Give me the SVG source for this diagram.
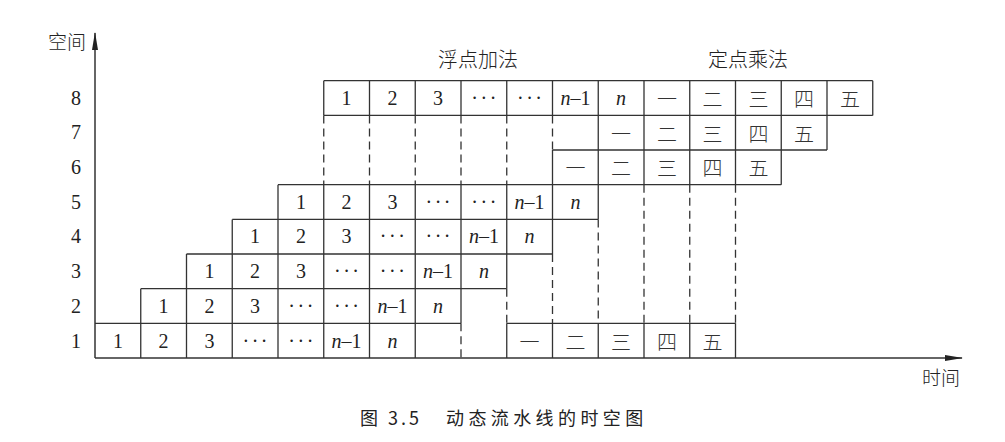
<svg xmlns="http://www.w3.org/2000/svg" width="1005" height="442" viewBox="0 0 1005 442">
<style>
.s{stroke:#333;stroke-width:1.3;fill:none}
.d{stroke:#333;stroke-width:1.3;fill:none;stroke-dasharray:8 5}
.ax{stroke:#333;stroke-width:1.5;fill:none}
.n{font-family:"Liberation Serif",serif;font-size:20px;fill:#222;text-anchor:middle}
.i{font-style:italic}
.dots{font-family:"Liberation Serif",serif;font-size:20px;fill:#222;text-anchor:middle;letter-spacing:2.5px}
.c{font-family:"Noto Sans CJK SC",sans-serif;font-weight:300;font-size:20px;fill:#333;text-anchor:middle}
.t{font-family:"Noto Sans CJK SC",sans-serif;font-weight:300;font-size:20px;fill:#222;text-anchor:middle}
.lab{font-family:"Noto Sans CJK SC",sans-serif;font-weight:300;font-size:19px;fill:#222}
.cap{font-family:"Noto Sans CJK SC",sans-serif;font-size:18px;fill:#222}
</style>
<defs>
<marker id="ah" markerUnits="userSpaceOnUse" markerWidth="18" markerHeight="8" refX="17" refY="3" orient="auto">
<path d="M0,0 L18,3 L0,6 Z" fill="#222"/>
</marker>
</defs>

<g id="connectors">
<path class="ax" d="M95,358 V33" marker-end="url(#ah)"/>
<path class="ax" d="M95,358 H962" marker-end="url(#ah)"/>
</g>

<g id="grid-solid">
<path class="s" d="M323.75,80.7H872.75 M323.75,115.4H872.75 M552.5,150H827 M278,184.7H781.25 M232.25,219.4H598.25 M186.5,254H552.5 M140.75,288.7H506.75 M95,323.3H461 M506.75,323.3H735.5"/>
<path class="s" d="M140.75,288.7V358 M186.5,254V358 M232.25,219.4V358 M278,184.7V358
M323.75,184.7V358 M323.75,80.7V115.4
M369.5,184.7V358 M369.5,80.7V115.4
M415.25,184.7V358 M415.25,80.7V115.4
M461,184.7V323.3 M461,80.7V115.4
M506.75,323.3V358 M506.75,184.7V288.7 M506.75,80.7V115.4
M552.5,323.3V358 M552.5,150V254 M552.5,80.7V115.4
M598.25,323.3V358 M598.25,80.7V219.4
M644,323.3V358 M644,80.7V184.7
M689.75,323.3V358 M689.75,80.7V184.7
M735.5,323.3V358 M735.5,80.7V184.7
M781.25,80.7V184.7 M827,80.7V150 M872.75,80.7V115.4"/>
</g>
<g id="grid-dashed">
<path class="d" d="M323.75,115.4V184.7 M369.5,115.4V184.7 M415.25,115.4V184.7 M461,115.4V184.7 M506.75,115.4V184.7 M552.5,115.4V150
M461,323.3V358 M506.75,288.7V323.3 M552.5,254V323.3 M598.25,219.4V323.3 M644,184.7V323.3 M689.75,184.7V323.3 M735.5,184.7V323.3"/>
</g>

<g id="axis-labels">
<text class="lab" x="86" y="49" text-anchor="end">空间</text>
<text class="lab" x="960" y="385" text-anchor="end">时间</text>
<text class="n" x="76" y="347.5">1</text>
<text class="n" x="76" y="312.8">2</text>
<text class="n" x="76" y="278">3</text>
<text class="n" x="76" y="243.4">4</text>
<text class="n" x="76" y="208.7">5</text>
<text class="n" x="76" y="174">6</text>
<text class="n" x="76" y="139.4">7</text>
<text class="n" x="76" y="104.5">8</text>
</g>

<g id="titles">
<text class="t" x="478" y="67">浮点加法</text>
<text class="t" x="748" y="67">定点乘法</text>
</g>

<g id="row8">
<text class="n" x="346.6" y="104.5">1</text>
<text class="n" x="392.4" y="104.5">2</text>
<text class="n" x="438.1" y="104.5">3</text>
<text class="dots" x="485.1" y="104.5">···</text>
<text class="dots" x="530.8" y="104.5">···</text>
<text class="n" x="575.4" y="104.5"><tspan class="i">n</tspan>–1</text>
<text class="n i" x="621.1" y="104.5">n</text>
<text class="c" x="666.9" y="107">一</text>
<text class="c" x="712.6" y="107">二</text>
<text class="c" x="758.4" y="107">三</text>
<text class="c" x="804.1" y="107">四</text>
<text class="c" x="849.9" y="107">五</text>
</g>
<g id="row7">
<text class="c" x="621.1" y="141.7">一</text>
<text class="c" x="666.9" y="141.7">二</text>
<text class="c" x="712.6" y="141.7">三</text>
<text class="c" x="758.4" y="141.7">四</text>
<text class="c" x="804.1" y="141.7">五</text>
</g>
<g id="row6">
<text class="c" x="575.4" y="176.3">一</text>
<text class="c" x="621.1" y="176.3">二</text>
<text class="c" x="666.9" y="176.3">三</text>
<text class="c" x="712.6" y="176.3">四</text>
<text class="c" x="758.4" y="176.3">五</text>
</g>
<g id="row5">
<text class="n" x="300.9" y="208.7">1</text>
<text class="n" x="346.6" y="208.7">2</text>
<text class="n" x="392.4" y="208.7">3</text>
<text class="dots" x="439.3" y="208.7">···</text>
<text class="dots" x="485.1" y="208.7">···</text>
<text class="n" x="529.6" y="208.7"><tspan class="i">n</tspan>–1</text>
<text class="n i" x="575.4" y="208.7">n</text>
</g>
<g id="row4">
<text class="n" x="255.1" y="243.4">1</text>
<text class="n" x="300.9" y="243.4">2</text>
<text class="n" x="346.6" y="243.4">3</text>
<text class="dots" x="393.6" y="243.4">···</text>
<text class="dots" x="439.3" y="243.4">···</text>
<text class="n" x="483.9" y="243.4"><tspan class="i">n</tspan>–1</text>
<text class="n i" x="529.6" y="243.4">n</text>
</g>
<g id="row3">
<text class="n" x="209.4" y="278">1</text>
<text class="n" x="255.1" y="278">2</text>
<text class="n" x="300.9" y="278">3</text>
<text class="dots" x="347.8" y="278">···</text>
<text class="dots" x="393.6" y="278">···</text>
<text class="n" x="438.1" y="278"><tspan class="i">n</tspan>–1</text>
<text class="n i" x="483.9" y="278">n</text>
</g>
<g id="row2">
<text class="n" x="163.6" y="312.8">1</text>
<text class="n" x="209.4" y="312.8">2</text>
<text class="n" x="255.1" y="312.8">3</text>
<text class="dots" x="302.1" y="312.8">···</text>
<text class="dots" x="347.8" y="312.8">···</text>
<text class="n" x="392.4" y="312.8"><tspan class="i">n</tspan>–1</text>
<text class="n i" x="438.1" y="312.8">n</text>
</g>
<g id="row1">
<text class="n" x="117.9" y="347.5">1</text>
<text class="n" x="163.6" y="347.5">2</text>
<text class="n" x="209.4" y="347.5">3</text>
<text class="dots" x="256.3" y="347.5">···</text>
<text class="dots" x="302.1" y="347.5">···</text>
<text class="n" x="346.6" y="347.5"><tspan class="i">n</tspan>–1</text>
<text class="n i" x="392.4" y="347.5">n</text>
<text class="c" x="529.6" y="350">一</text>
<text class="c" x="575.4" y="350">二</text>
<text class="c" x="621.1" y="350">三</text>
<text class="c" x="666.9" y="350">四</text>
<text class="c" x="712.6" y="350">五</text>
</g>

<g id="caption">
<text class="cap" x="360" y="425">图<tspan x="388" letter-spacing="3">3.5</tspan><tspan x="446" letter-spacing="4.4">动态流水线的时空图</tspan></text>
</g>
</svg>
